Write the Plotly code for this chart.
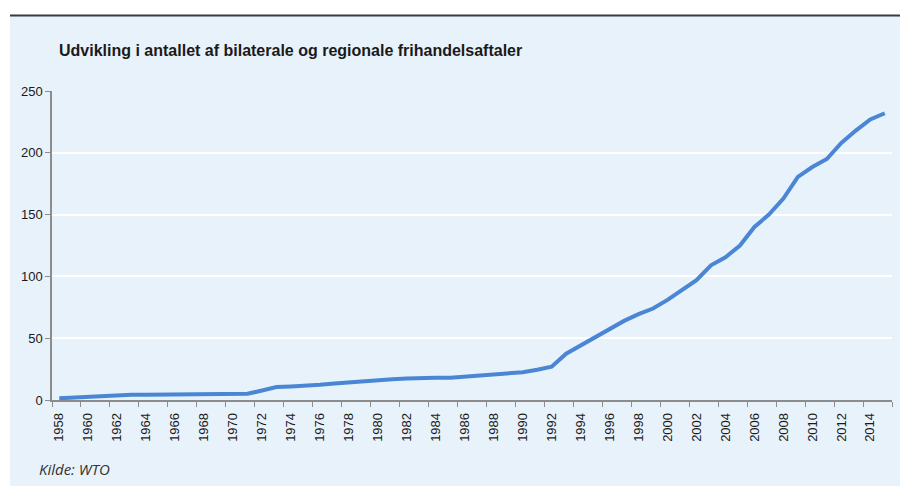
import plotly.graph_objects as go

# Number of bilateral and regional free trade agreements per year
years = list(range(1958, 2016))
agreements = [
    1.4, 2.0, 2.4, 3.5, 4.0, 4.2, 4.3, 4.4, 4.5, 4.6,   # 1958-1967
    4.7, 4.8, 4.8, 5.0, 7.7, 10.5, 11.0, 11.5, 12.3, 13.3,  # 1968-1977
    14.3, 15.3, 16.0, 16.8, 17.4, 17.9, 18.0, 18.0, 18.8, 19.6,  # 1978-1987
    20.2, 21.0, 22.5, 24.5, 27.0, 37.5, 44.0, 51.0, 57.0, 64.0,  # 1988-1997
    69.5, 74.0, 81.0, 89.0, 97.0, 109.0, 115.5, 125.0, 140.0, 150.0,  # 1998-2007
    163.0, 180.5, 188.5, 195.0, 208.0, 218.0, 227.0, 232.0,  # 2008-2015
]
x_tick_years = list(range(1958, 2015, 2))
x_tick_labels = [str(y) for y in x_tick_years]
y_ticks = [0, 50, 100, 150, 200, 250]

title_text = "Udvikling i antallet af bilaterale og regionale frihandelsaftaler"
source_text = "Kilde: WTO"

W, H = 900, 486
L, R, T, B = 52, 8, 91, 86
plot_w = W - L - R
plot_h = H - T - B

def px_x(p):
    return (p - L) / plot_w

def px_y(p):
    return (H - B - p) / plot_h

bg = "#E8F2FB"
axis_grey = "#8C8C8C"
font_main = "Liberation Sans Narrow, Arial Narrow, Liberation Sans, Arial, sans-serif"

fig = go.Figure()
fig.add_trace(go.Scatter(
    x=years, y=agreements, mode="lines",
    line=dict(color="#4A86D4", width=4),
    hoverinfo="skip", showlegend=False,
))

# panel background and dark rule along its top edge
fig.add_shape(type="rect", xref="paper", yref="paper",
              x0=px_x(10), x1=px_x(W + 2), y0=px_y(H + 2), y1=px_y(16),
              fillcolor=bg, line=dict(width=0), layer="below")
fig.add_shape(type="line", xref="paper", yref="paper",
              x0=px_x(10), x1=px_x(W + 2), y0=px_y(15.5), y1=px_y(15.5),
              line=dict(color="#3A3A3A", width=2), layer="above")

fig.add_annotation(text="<b>" + title_text + "</b>", xref="paper", yref="paper",
                   x=px_x(57), y=px_y(51), xanchor="left", yanchor="middle",
                   showarrow=False, font=dict(family=font_main, size=16, color="#1A1A1A"))
fig.add_annotation(text="<i>" + source_text + "</i>", xref="paper", yref="paper",
                   x=px_x(37), y=px_y(469), xanchor="left", yanchor="middle",
                   showarrow=False, font=dict(family="Open Sans, DejaVu Sans, sans-serif", size=15, color="#333333"))

fig.update_xaxes(
    range=[1957.5, 2015.5], tickmode="array", tickvals=x_tick_years, ticktext=x_tick_labels,
    tickangle=-90, ticks="outside", ticklen=6, tickcolor="rgba(0,0,0,0)",
    tickfont=dict(family=font_main, size=13, color="#1A1A1A"),
    showgrid=False, zeroline=False, showline=True, linecolor=axis_grey, linewidth=1.5,
    minor=dict(tickmode="array", tickvals=[1957.5 + 2 * k for k in range(30)],
               ticks="outside", ticklen=5, tickcolor=axis_grey, tickwidth=1, showgrid=False),
    fixedrange=True,
)
fig.update_yaxes(
    range=[0, 250], tickmode="array", tickvals=y_ticks,
    ticks="outside", ticklen=5, tickcolor=axis_grey,
    tickfont=dict(family=font_main, size=13, color="#1A1A1A"),
    showgrid=True, gridcolor="#FFFFFF", gridwidth=2,
    zeroline=False, showline=True, linecolor=axis_grey, linewidth=1.5,
    fixedrange=True,
)
fig.update_layout(
    width=W, height=H, margin=dict(l=L, r=R, t=T, b=B),
    paper_bgcolor="#FFFFFF", plot_bgcolor="rgba(0,0,0,0)",
    showlegend=False,
)
fig.write_html("out.html")
